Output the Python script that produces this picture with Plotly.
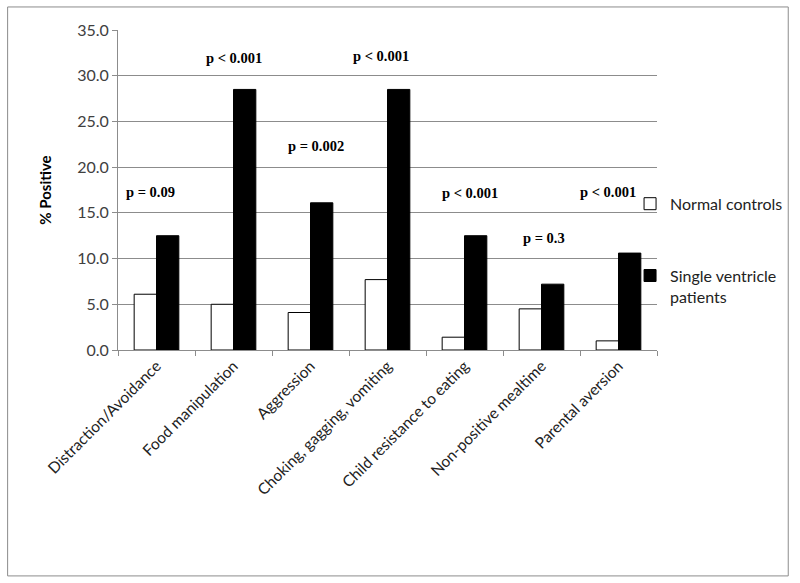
import plotly.graph_objects as go

categories = ["Distraction/Avoidance", "Food manipulation", "Aggression",
              "Choking, gagging, vomiting", "Child resistance to eating",
              "Non-positive mealtime", "Parental aversion"]
normal_controls = [6.1, 5.0, 4.1, 7.7, 1.4, 4.5, 1.0]
single_ventricle = [12.5, 28.5, 16.1, 28.5, 12.5, 7.2, 10.6]
p_labels = ["p = 0.09", "p < 0.001", "p = 0.002", "p < 0.001", "p < 0.001", "p = 0.3", "p < 0.001"]
p_label_y = [17.3, 31.9, 22.3, 32.2, 17.2, 12.3, 17.3]
p_label_shift = [-6, 0, 5, -7, 5, 2, -11]  # small nudges, px

fig = go.Figure()
fig.add_trace(go.Bar(x=categories, y=normal_controls, name="Normal controls",
                     marker=dict(color="white", line=dict(color="black", width=1)),
                     legendgroup="a"))
fig.add_trace(go.Bar(x=categories, y=single_ventricle, name="Single ventricle<br>patients",
                     marker=dict(color="black", line=dict(color="black", width=1)),
                     legendgroup="b"))

for cat, lab, yy, sh in zip(categories, p_labels, p_label_y, p_label_shift):
    fig.add_annotation(x=cat, y=yy, text="<b>" + lab + "</b>", showarrow=False, xshift=sh,
                       font=dict(family="Liberation Serif", size=14.5, color="black"),
                       xanchor="center", yanchor="middle")

# outer chart border
fig.add_shape(type="rect", xref="paper", yref="paper",
              x0=-0.2048, x1=1.2435, y0=-0.706, y1=1.072,
              line=dict(color="#8c8c8c", width=1))

fig.update_layout(
    width=800, height=583,
    margin=dict(l=118, r=140, t=30, b=233),
    paper_bgcolor="white", plot_bgcolor="white",
    barmode="group", bargap=0.42, bargroupgap=0,
    font=dict(family="Lato", size=16, color="#404040"),
    legend=dict(x=0.95, y=0.51, xanchor="left", yanchor="top", valign="top",
                font=dict(family="Lato", size=16, color="#222"),
                tracegroupgap=48, bgcolor="rgba(0,0,0,0)"),
    showlegend=True,
)
fig.update_xaxes(showline=True, linecolor="#8c8c8c", ticks="outside", tickson="boundaries",
                 ticklen=5, tickcolor="#8c8c8c", tickangle=-45, automargin=False,
                 tickfont=dict(family="Lato", size=15.5, color="#222"))
fig.update_yaxes(range=[0, 35], dtick=5, tickformat=".1f", showgrid=True, gridcolor="#8c8c8c",
                 showline=True, linecolor="#8c8c8c", ticks="outside", ticklen=5,
                 tickcolor="#8c8c8c", zeroline=False, automargin=False,
                 title=dict(text="<b>% Positive</b>", font=dict(family="Lato", size=15, color="black"),
                            standoff=21))

# drop the browser's default body margin so the figure sits at the page corner
fig.write_html("out.html", config={"displayModeBar": False},
               post_script="document.body.style.margin='0';document.body.style.overflow='hidden';")
